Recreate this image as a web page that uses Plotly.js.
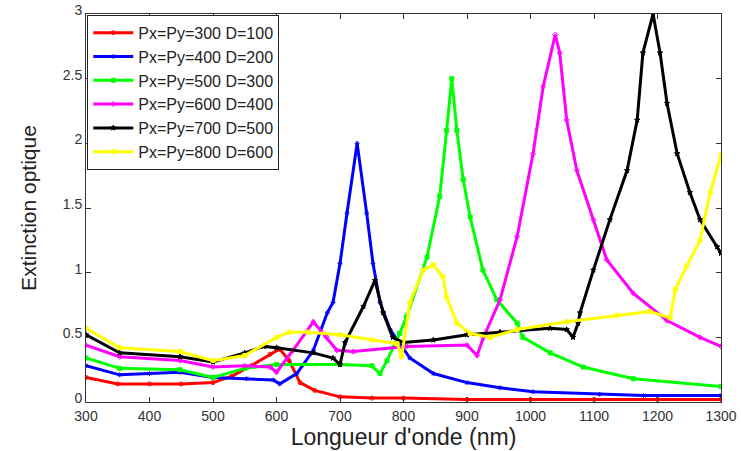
<!DOCTYPE html>
<html>
<head>
<meta charset="utf-8">
<script src="https://cdn.plot.ly/plotly-3.0.1.min.js"></script>
<style>html,body{margin:0;padding:0;background:#fff;}#chart{width:741px;height:451px;}</style>
</head>
<body>
<div id="chart"></div>
<script>
// Series names
const names = ["Px=Py=300 D=100","Px=Py=400 D=200","Px=Py=500 D=300","Px=Py=600 D=400","Px=Py=700 D=500","Px=Py=800 D=600"];

// Red: Px=Py=300 D=100
const x300 = [300,350,400,450,500,530,560,590,605,620,637,660,700,750,800,900,1000,1100,1200,1300];
const y300 = [0.19,0.14,0.14,0.14,0.15,0.20,0.28,0.37,0.41,0.32,0.15,0.09,0.04,0.03,0.03,0.02,0.02,0.02,0.02,0.02];

// Blue: Px=Py=400 D=200
const x400 = [300,353,400,448,500,553,595,605,632,658,680,689,700,711,727,742,752,763,779,810,847,900,952,1004,1109,1178,1300];
const y400 = [0.28,0.21,0.22,0.23,0.19,0.18,0.17,0.14,0.22,0.40,0.69,0.77,1.07,1.46,2.0,1.46,1.07,0.77,0.56,0.34,0.22,0.15,0.11,0.08,0.06,0.05,0.05];

// Green: Px=Py=500 D=300
const x500 = [300,353,448,500,550,600,700,750,763,774,794,805,837,857,868,876,884,894,905,925,947,979,988,1031,1083,1162,1300];
const y500 = [0.34,0.26,0.25,0.19,0.26,0.29,0.29,0.28,0.22,0.32,0.53,0.66,1.12,1.59,2.1,2.5,2.1,1.72,1.43,1.02,0.79,0.61,0.50,0.38,0.27,0.18,0.12];

// Magenta: Px=Py=600 D=400
const x600 = [300,353,448,500,550,590,600,626,658,679,695,721,805,900,916,926,952,979,1004,1020,1039,1046,1057,1073,1099,1120,1162,1215,1267,1300];
const y600 = [0.44,0.35,0.32,0.27,0.28,0.27,0.23,0.40,0.62,0.50,0.40,0.39,0.43,0.44,0.36,0.50,0.79,1.28,1.92,2.44,2.84,2.70,2.18,1.79,1.41,1.10,0.84,0.63,0.50,0.43];

// Black: Px=Py=700 D=500
const x700 = [300,353,448,500,550,580,600,658,689,700,708,737,755,768,783,800,847,900,952,1031,1057,1067,1075,1078,1099,1125,1152,1168,1177,1193,1204,1215,1231,1251,1267,1294,1300];
const y700 = [0.52,0.38,0.35,0.31,0.38,0.43,0.42,0.38,0.34,0.29,0.46,0.74,0.94,0.69,0.50,0.46,0.48,0.52,0.54,0.57,0.56,0.50,0.61,0.69,1.02,1.41,1.79,2.18,2.70,3.0,2.70,2.31,1.92,1.62,1.41,1.20,1.15];

// Yellow: Px=Py=800 D=600
const x800 = [300,353,448,500,550,600,620,650,700,750,790,797,810,831,847,862,868,884,905,936,979,1057,1136,1188,1220,1228,1246,1267,1283,1300];
const y800 = [0.57,0.42,0.39,0.32,0.36,0.50,0.54,0.54,0.52,0.48,0.45,0.35,0.77,1.02,1.06,0.97,0.81,0.61,0.53,0.50,0.56,0.62,0.67,0.70,0.65,0.87,1.05,1.25,1.62,1.91];

const xs = [x300,x400,x500,x600,x700,x800];
const ys = [y300,y400,y500,y600,y700,y800];
const colors = ["#ff0000","#0000ff","#00ff00","#ff00ff","#000000","#ffff00"];
const symbols = ["circle-open","asterisk-open","square","diamond-open","star","square"];

const traces = xs.map((x,i)=>({
  x: x, y: ys[i], name: names[i], type: "scatter", mode: "lines+markers",
  line: {color: colors[i], width: 3},
  marker: {color: colors[i], size: 4, symbol: symbols[i], line:{color: colors[i], width:1}},
  cliponaxis: true
}));

const layout = {
  width: 741, height: 451,
  margin: {l: 86, r: 20, t: 14, b: 49},
  paper_bgcolor: "#fff", plot_bgcolor: "#fff",
  font: {family: "Liberation Sans, Arial, sans-serif", color: "#333"},
  xaxis: {
    range: [300,1300], tickmode: "array",
    tickvals: [300,400,500,600,700,800,900,1000,1100,1200,1300],
    ticks: "inside", ticklen: 5, tickcolor: "#333", mirror: "ticks",
    showline: true, linecolor: "#333", linewidth: 1, showgrid: false, zeroline: false,
    tickfont: {size: 14, color: "#333"}, ticklabelstandoff: 1,
    title: {text: "Longueur d'onde (nm)", font: {size: 23, color: "#222"}, standoff: 2}
  },
  yaxis: {
    range: [0,3], tickmode: "array", tickvals: [0,0.5,1,1.5,2,2.5,3],
    ticktext: ["0","0.5","1","1.5","2","2.5","3"],
    ticks: "inside", ticklen: 5, tickcolor: "#333", mirror: "ticks",
    showline: true, linecolor: "#333", linewidth: 1, showgrid: false, zeroline: false,
    tickfont: {size: 14, color: "#333"}, ticklabelshift: -4,
    title: {text: "Extinction optique", font: {size: 21, color: "#222"}, standoff: 20}
  },
  legend: {
    x: 0.002, y: 0.998, xanchor: "left", yanchor: "top",
    bgcolor: "#fff", bordercolor: "#222", borderwidth: 1,
    font: {size: 16, color: "#222"}, tracegroupgap: 0, itemwidth: 40
  },
  showlegend: true
};

Plotly.newPlot("chart", traces, layout, {displayModeBar: false, staticPlot: true});
</script>
</body>
</html>
